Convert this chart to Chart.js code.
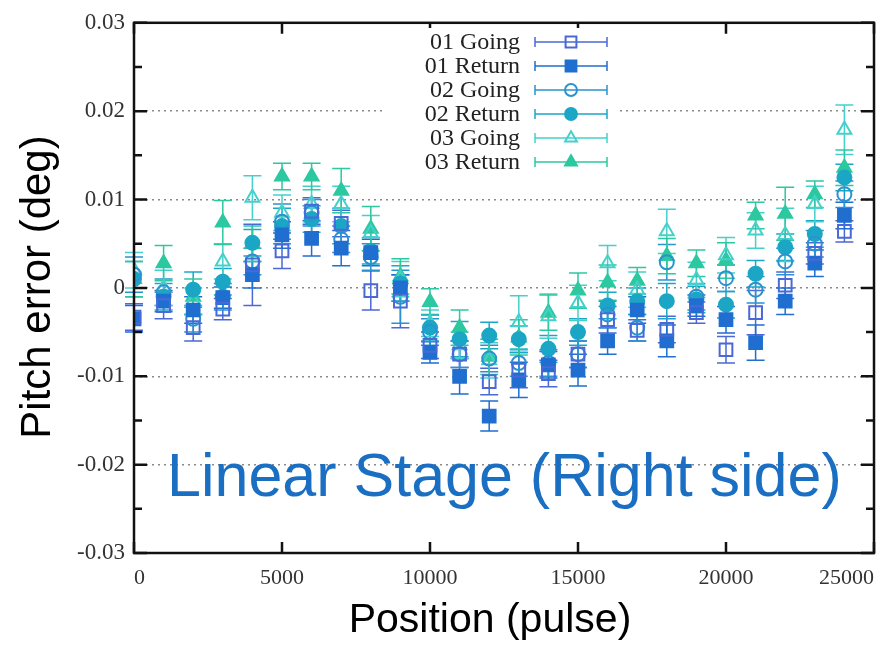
<!DOCTYPE html>
<html>
<head>
<meta charset="utf-8">
<script src="https://cdn.jsdelivr.net/npm/chart.js@4.4.0/dist/chart.umd.min.js"></script>
<style>
  html, body { margin: 0; padding: 0; background: #fff; }
</style>
</head>
<body>
<canvas id="pitchChart" width="886" height="646"></canvas>
<script>
// positions (pulse)
const positions = [0, 1000, 2000, 3000, 4000, 5000, 6000, 7000, 8000, 9000, 10000, 11000, 12000,
  13000, 14000, 15000, 16000, 17000, 18000, 19000, 20000, 21000, 22000, 23000, 24000];

// pitch error (deg)
const going01 = [-0.0033, -0.0020, -0.0045, -0.0024, 0.0026, 0.0042, 0.0087, 0.0073, -0.0003, -0.0015, -0.0065, -0.0075, -0.0106,
  -0.0093, -0.0097, -0.0075, -0.0036, -0.0048, -0.0047, -0.0028, -0.0070, -0.0028, 0.0003, 0.0039, 0.0064];
const return01 = [-0.0035, -0.0015, -0.0025, -0.0011, 0.0015, 0.0060, 0.0056, 0.0045, 0.0040, 0.0000, -0.0073, -0.0100, -0.0145,
  -0.0104, -0.0087, -0.0093, -0.0060, -0.0025, -0.0060, -0.0020, -0.0036, -0.0062, -0.0015, 0.0028, 0.0082];
const going02 = [0.0015, -0.0005, -0.0035, -0.0010, 0.0030, 0.0075, 0.0085, 0.0055, 0.0035, -0.0010, -0.0050, -0.0075, -0.0080,
  -0.0085, -0.0085, -0.0075, -0.0030, -0.0045, 0.0029, -0.0010, 0.0011, -0.0002, 0.0030, 0.0050, 0.0106];
const return02 = [0.0010, -0.0010, -0.0002, 0.0007, 0.0051, 0.0070, 0.0078, 0.0070, 0.0042, 0.0005, -0.0045, -0.0058, -0.0054,
  -0.0058, -0.0069, -0.0050, -0.0020, -0.0015, -0.0015, -0.0013, -0.0019, 0.0016, 0.0046, 0.0061, 0.0125];
const going03 = [0.0020, 0.0000, -0.0015, 0.0030, 0.0102, 0.0085, 0.0095, 0.0095, 0.0062, 0.0010, -0.0040, -0.0065, -0.0082,
  -0.0039, -0.0032, -0.0017, 0.0028, -0.0002, 0.0064, 0.0009, 0.0037, 0.0065, 0.0060, 0.0095, 0.0179];
const return03 = [0.0010, 0.0028, -0.0010, 0.0074, 0.0050, 0.0126, 0.0126, 0.0110, 0.0067, 0.0013, -0.0016, -0.0045, -0.0078,
  -0.0056, -0.0028, -0.0003, 0.0006, 0.0008, 0.0036, 0.0028, 0.0031, 0.0082, 0.0084, 0.0106, 0.0136];

// error bar half-lengths (deg)
const errGoing01 = [0.0015, 0.0015, 0.0015, 0.0012, 0.0046, 0.0020, 0.0015, 0.0015, 0.0022, 0.0030, 0.0015, 0.0015, 0.0015,
  0.0020, 0.0015, 0.0015, 0.0015, 0.0012, 0.0015, 0.0012, 0.0015, 0.0025, 0.0015, 0.0012, 0.0012];
const errReturn01 = [0.0015, 0.0012, 0.0015, 0.0012, 0.0015, 0.0015, 0.0020, 0.0020, 0.0015, 0.0015, 0.0012, 0.0020, 0.0017,
  0.0020, 0.0015, 0.0018, 0.0015, 0.0015, 0.0018, 0.0012, 0.0015, 0.0020, 0.0015, 0.0015, 0.0015];
const errGoing02 = [0.0020, 0.0015, 0.0015, 0.0015, 0.0015, 0.0020, 0.0015, 0.0015, 0.0015, 0.0030, 0.0015, 0.0015, 0.0015,
  0.0015, 0.0015, 0.0015, 0.0015, 0.0015, 0.0020, 0.0015, 0.0015, 0.0015, 0.0015, 0.0015, 0.0015];
const errReturn02 = [0.0020, 0.0015, 0.0020, 0.0015, 0.0015, 0.0020, 0.0015, 0.0020, 0.0015, 0.0020, 0.0015, 0.0020, 0.0015,
  0.0015, 0.0015, 0.0015, 0.0015, 0.0015, 0.0020, 0.0015, 0.0015, 0.0015, 0.0015, 0.0015, 0.0015];
const errGoing03 = [0.0020, 0.0020, 0.0015, 0.0020, 0.0025, 0.0020, 0.0020, 0.0020, 0.0020, 0.0020, 0.0015, 0.0015, 0.0020,
  0.0030, 0.0025, 0.0020, 0.0020, 0.0020, 0.0025, 0.0020, 0.0020, 0.0020, 0.0030, 0.0020, 0.0028];
const errReturn03 = [0.0020, 0.0020, 0.0020, 0.0025, 0.0020, 0.0015, 0.0015, 0.0025, 0.0025, 0.0020, 0.0015, 0.0020, 0.0020,
  0.0020, 0.0020, 0.0020, 0.0020, 0.0015, 0.0020, 0.0015, 0.0020, 0.0015, 0.0030, 0.0015, 0.0020];

const serif = "'Liberation Serif', 'Times New Roman', serif";
const sans = "'Liberation Sans', Arial, sans-serif";

function points(vals) {
    return positions.map((p, i) => ({ x: p, y: vals[i] }));
}

function series(label, vals, err, color, style, filled, radius) {
    return {
        label: label,
        data: points(vals),
        err: err,
        borderColor: color,
        backgroundColor: filled ? color : 'rgba(0,0,0,0)',
        pointStyle: style,
        pointRadius: radius,
        pointBorderWidth: 2,
        showLine: false
    };
}

const pitchData = {
    datasets: [
        series('01 Going', going01, errGoing01, '#4a68d8', 'rect', false, 9),
        series('01 Return', return01, errReturn01, '#1f6ed0', 'rect', true, 9),
        series('02 Going', going02, errGoing02, '#2a92d0', 'circle', false, 7),
        series('02 Return', return02, errReturn02, '#1ca6c6', 'circle', true, 7),
        series('03 Going', going03, errGoing03, '#46d0cc', 'triangle', false, 8),
        series('03 Return', return03, errReturn03, '#2cc8a0', 'triangle', true, 8)
    ]
};

// error bars, frame, inward ticks, legend and texts
const decorPlugin = {
    id: 'decor',
    beforeDatasetsDraw(chart) {
        const ctx = chart.ctx;
        const ys = chart.scales.y;
        ctx.save();
        chart.data.datasets.forEach((ds, di) => {
            const meta = chart.getDatasetMeta(di);
            ctx.strokeStyle = ds.borderColor;
            ctx.lineWidth = 1.5;
            meta.data.forEach((pt, i) => {
                const v = ds.data[i].y;
                const t = ys.getPixelForValue(v + ds.err[i]);
                const b = ys.getPixelForValue(v - ds.err[i]);
                ctx.beginPath();
                ctx.moveTo(pt.x, t); ctx.lineTo(pt.x, b);
                ctx.moveTo(pt.x - 9, t); ctx.lineTo(pt.x + 9, t);
                ctx.moveTo(pt.x - 9, b); ctx.lineTo(pt.x + 9, b);
                ctx.stroke();
            });
        });
        ctx.restore();
    },
    afterDraw(chart) {
        const ctx = chart.ctx;
        const { left, right, top, bottom } = chart.chartArea;
        const xs = chart.scales.x, ys = chart.scales.y;
        ctx.save();

        // frame
        ctx.strokeStyle = '#111';
        ctx.lineWidth = 2.5;
        ctx.strokeRect(left, top, right - left, bottom - top);

        // y ticks (major + minor), both sides
        ys.ticks.forEach((tk, i) => {
            const py = ys.getPixelForValue(tk.value);
            ctx.beginPath();
            ctx.moveTo(left, py); ctx.lineTo(left + 13, py);
            ctx.moveTo(right, py); ctx.lineTo(right - 13, py);
            if (i < ys.ticks.length - 1) {
                const my = ys.getPixelForValue((tk.value + ys.ticks[i + 1].value) / 2);
                ctx.moveTo(left, my); ctx.lineTo(left + 8, my);
                ctx.moveTo(right, my); ctx.lineTo(right - 8, my);
            }
            ctx.stroke();
        });
        // x ticks, bottom and top
        xs.ticks.forEach(tk => {
            const px = xs.getPixelForValue(tk.value);
            ctx.beginPath();
            ctx.moveTo(px, bottom); ctx.lineTo(px, bottom - 11);
            ctx.moveTo(px, top); ctx.lineTo(px, top + 11);
            ctx.stroke();
        });

        // legend
        const lgRight = 520, lgTop = 42, lgStep = 24;
        ctx.fillStyle = '#fff';
        ctx.fillRect(386, 28, 234, 150);
        ctx.font = '24px ' + serif;
        ctx.textAlign = 'right';
        ctx.textBaseline = 'middle';
        chart.data.datasets.forEach((ds, i) => {
            const y = lgTop + i * lgStep;
            ctx.fillStyle = '#222';
            ctx.fillText(ds.label, lgRight, y + 1);
            ctx.strokeStyle = ds.borderColor;
            ctx.lineWidth = 1.5;
            ctx.beginPath();
            ctx.moveTo(535, y); ctx.lineTo(607, y);
            ctx.moveTo(535, y - 5); ctx.lineTo(535, y + 5);
            ctx.moveTo(607, y - 5); ctx.lineTo(607, y + 5);
            ctx.stroke();
            ctx.fillStyle = ds.backgroundColor;
            ctx.lineWidth = 2;
            Chart.helpers.drawPoint(ctx, {
                pointStyle: ds.pointStyle,
                radius: ds.pointRadius * 0.85,
                rotation: 0,
                borderWidth: 2
            }, 571, y);
        });

        // annotation
        ctx.fillStyle = '#1a6fc2';
        ctx.font = '61px ' + sans;
        ctx.textAlign = 'left';
        ctx.textBaseline = 'alphabetic';
        ctx.fillText('Linear Stage (Right side)', 167, 496);

        // axis titles
        ctx.fillStyle = '#000';
        ctx.font = '41px ' + sans;
        ctx.textAlign = 'center';
        ctx.textBaseline = 'middle';
        ctx.fillText('Position (pulse)', 490, 621);
        ctx.translate(38, 287);
        ctx.rotate(-Math.PI / 2);
        ctx.font = '42px ' + sans;
        ctx.fillText('Pitch error (deg)', 0, 0);

        ctx.restore();
    }
};

const pitchChart = new Chart(document.getElementById('pitchChart').getContext('2d'), {
    type: 'scatter',
    data: pitchData,
    options: {
        responsive: false,
        animation: false,
        layout: { padding: { top: 16, right: 10, left: 0, bottom: 0 } },
        scales: {
            x: {
                type: 'linear',
                min: 0,
                max: 25000,
                ticks: {
                    stepSize: 5000,
                    padding: 12,
                    align: 'inner',
                    maxRotation: 0,
                    color: '#333',
                    font: { family: serif, size: 22 },
                    callback: v => String(v)
                },
                grid: { display: false, drawTicks: false },
                border: { display: false },
                afterFit: s => { s.height = 93; }
            },
            y: {
                min: -0.03,
                max: 0.03,
                ticks: {
                    stepSize: 0.01,
                    padding: 9,
                    color: '#333',
                    font: { family: serif, size: 23 },
                    callback: v => String(+v.toFixed(2))
                },
                grid: {
                    drawTicks: false,
                    lineWidth: 1.5,
                    color: c => (Math.abs(c.tick.value) > 0.025 ? 'rgba(0,0,0,0)' : '#8a8a8a')
                },
                border: { display: false, dash: [2, 4] },
                afterFit: s => { s.width = 134; }
            }
        },
        plugins: {
            legend: { display: false },
            tooltip: { enabled: false }
        }
    },
    plugins: [decorPlugin]
});
</script>
</body>
</html>
